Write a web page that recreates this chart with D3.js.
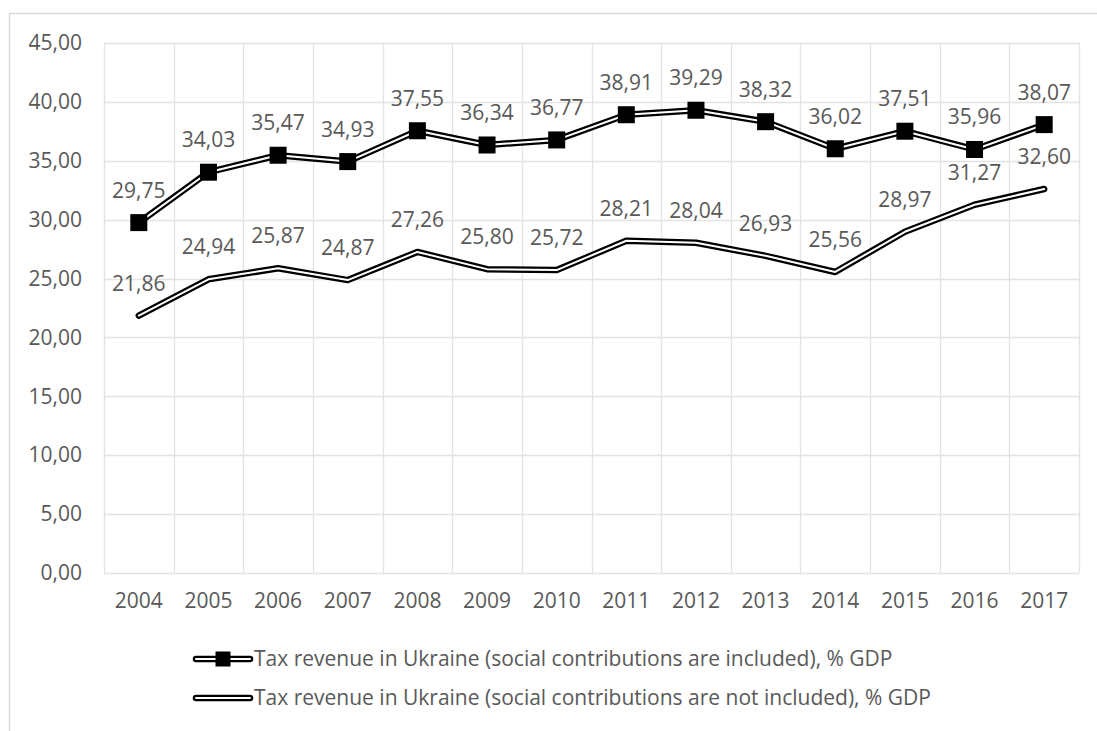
<!DOCTYPE html>
<html>
<head>
<meta charset="utf-8">
<script src="https://cdn.jsdelivr.net/npm/d3@7"></script>
<style>
  html, body { margin: 0; padding: 0; background: #fff; }
  svg { display: block; }
  text { font-family: "Open Sans", sans-serif; fill: #595959; }
</style>
</head>
<body>
<svg id="chart" width="1097" height="731"></svg>
<script>
// Tax revenue in Ukraine, % of GDP, 2004–2017
const years = ["2004","2005","2006","2007","2008","2009","2010","2011","2012","2013","2014","2015","2016","2017"];
const withSocial = [29.75, 34.03, 35.47, 34.93, 37.55, 36.34, 36.77, 38.91, 39.29, 38.32, 36.02, 37.51, 35.96, 38.07];
const withoutSocial = [21.86, 24.94, 25.87, 24.87, 27.26, 25.80, 25.72, 28.21, 28.04, 26.93, 25.56, 28.97, 31.27, 32.60];
const yTicks = [0, 5, 10, 15, 20, 25, 30, 35, 40, 45];
const seriesNames = [
  "Tax revenue in Ukraine (social contributions are included), % GDP",
  "Tax revenue in Ukraine (social contributions are not included), % GDP"
];

const svg = d3.select("#chart");
const fmt = v => d3.format(".2f")(v).replace(".", ",");

const plot = { left: 104, right: 1079, top: 43, bottom: 573 };
const fontSize = 21;

// Chart frame
svg.append("path")
  .attr("d", `M9.5,731 V13.5 H1097`)
  .attr("fill", "none").attr("stroke", "#d9d9d9").attr("stroke-width", 1.5);

const x = d3.scaleBand().domain(years).range([plot.left, plot.right]);
const y = d3.scaleLinear().domain([0, 45]).range([plot.bottom, plot.top]);
const cx = d => x(d) + x.bandwidth() / 2;

// Gridlines
const grid = svg.append("g").attr("stroke", "#e3e3e3").attr("stroke-width", 1.3);
grid.selectAll("line.h").data(yTicks).join("line")
  .attr("x1", plot.left).attr("x2", plot.right)
  .attr("y1", d => Math.round(y(d)) + 0.5).attr("y2", d => Math.round(y(d)) + 0.5);
const bounds = years.map(d => x(d)).concat([plot.right]);
grid.selectAll("line.v").data(bounds).join("line")
  .attr("y1", plot.top).attr("y2", plot.bottom)
  .attr("x1", d => Math.round(d) + 0.5).attr("x2", d => Math.round(d) + 0.5);

// Y axis labels
const yAxis = d3.axisLeft(y).tickValues(yTicks).tickFormat(fmt).tickSize(0).tickPadding(22);
svg.append("g").attr("transform", `translate(${plot.left},0)`).call(yAxis)
  .call(g => g.select(".domain").remove())
  .selectAll("text").style("font-size", fontSize + "px").attr("fill", "#595959")
  .style("font-family", "'Open Sans', sans-serif");

// X axis labels
const xAxis = d3.axisBottom(x).tickSize(0).tickPadding(20);
svg.append("g").attr("transform", `translate(0,${plot.bottom})`).call(xAxis)
  .call(g => g.select(".domain").remove())
  .selectAll("text").style("font-size", fontSize + "px").attr("fill", "#595959")
  .style("font-family", "'Open Sans', sans-serif");

// Double (compound) line: thick black stroke with a thin white core
const line = d3.line().x((d, i) => cx(years[i])).y(d => y(d));
function doubleLine(g, data) {
  g.append("path").datum(data).attr("d", line)
    .attr("fill", "none").attr("stroke", "#000").attr("stroke-width", 6.5)
    .attr("stroke-linejoin", "round").attr("stroke-linecap", "round");
  g.append("path").datum(data).attr("d", line)
    .attr("fill", "none").attr("stroke", "#fff").attr("stroke-width", 2)
    .attr("stroke-linejoin", "round").attr("stroke-linecap", "round");
}

const s2 = svg.append("g");
doubleLine(s2, withoutSocial);
const s1 = svg.append("g");
doubleLine(s1, withSocial);

const mSize = 17;
s1.selectAll("rect").data(withSocial).join("rect")
  .attr("x", (d, i) => cx(years[i]) - mSize / 2)
  .attr("y", d => y(d) - mSize / 2)
  .attr("width", mSize).attr("height", mSize).attr("fill", "#000");

// Data labels above points
function labels(data) {
  svg.append("g").selectAll("text").data(data).join("text")
    .attr("x", (d, i) => cx(years[i]))
    .attr("y", d => y(d) - 25)
    .attr("text-anchor", "middle")
    .style("font-size", fontSize + "px")
    .text(fmt);
}
labels(withSocial);
labels(withoutSocial);

// Legend
const legend = svg.append("g");
const legendRows = [659, 698];
seriesNames.forEach((name, i) => {
  const ly = legendRows[i];
  const g = legend.append("g");
  g.append("line").attr("x1", 196).attr("x2", 250).attr("y1", ly).attr("y2", ly)
    .attr("stroke", "#000").attr("stroke-width", 6.5).attr("stroke-linecap", "round");
  g.append("line").attr("x1", 196).attr("x2", 250).attr("y1", ly).attr("y2", ly)
    .attr("stroke", "#fff").attr("stroke-width", 2).attr("stroke-linecap", "round");
  if (i === 0) {
    g.append("rect").attr("x", 223 - 7.5).attr("y", ly - 7.5)
      .attr("width", 15).attr("height", 15).attr("fill", "#000");
  }
  g.append("text").attr("x", 254).attr("y", ly).attr("dy", "0.35em")
    .style("font-size", "21px").text(name);
});
</script>
</body>
</html>
